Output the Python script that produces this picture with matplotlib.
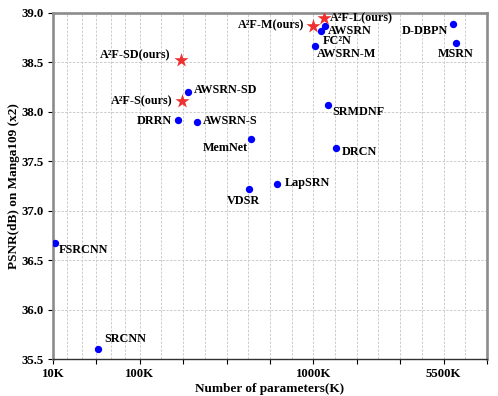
import numpy as np
import matplotlib
matplotlib.use("Agg")
import matplotlib.pyplot as plt

plt.rcParams['font.family'] = ['Liberation Serif', 'DejaVu Serif']
plt.rcParams['font.weight'] = 'bold'

# --- data (params in K, PSNR on Manga109 x2) ---
names = ['SRCNN', 'FSRCNN', 'VDSR', 'DRCN', 'LapSRN', 'DRRN', 'MemNet',
         'SRMDNF', 'D-DBPN', 'MSRN', 'AWSRN-S', 'AWSRN-SD', 'AWSRN-M',
         'AWSRN', 'FC²N']
params = [57, 12, 665, 1774, 813, 297, 677, 1513, 5819, 5930, 397, 348,
          1063, 1397, 1250]
psnr = [35.60, 36.67, 37.22, 37.63, 37.27, 37.92, 37.72, 38.07, 38.89,
        38.69, 37.90, 38.20, 38.66, 38.87, 38.81]

ours_names = ['A²F-SD(ours)', 'A²F-S(ours)', 'A²F-M(ours)', 'A²F-L(ours)']
ours_params = [313, 320, 999, 1363]
ours_psnr = [38.52, 38.11, 38.87, 38.95]

# label placement: (dx, dy) in pixels, horizontal alignment
label_pos = {
    'SRCNN': (6, 10, 'left'), 'FSRCNN': (4, -7, 'left'),
    'VDSR': (-5, -12, 'center'), 'DRCN': (6, -4, 'left'),
    'LapSRN': (7, 1, 'left'), 'DRRN': (-6, -1, 'right'),
    'MemNet': (-3, -9, 'right'), 'SRMDNF': (4, -7, 'left'),
    'D-DBPN': (-5, -7, 'right'), 'MSRN': (0, -11, 'center'),
    'AWSRN-S': (6, 1, 'left'), 'AWSRN-SD': (6, 2, 'left'),
    'AWSRN-M': (2, -8, 'left'), 'AWSRN': (3, -5, 'left'),
    'FC²N': (2, -10, 'left'),
    'A²F-SD(ours)': (-10, 5, 'right'), 'A²F-S(ours)': (-10, 0, 'right'),
    'A²F-M(ours)': (-9, 0, 'right'), 'A²F-L(ours)': (6, -1, 'left'),
}

# piecewise-linear x axis used by the original figure
param_breaks = [10, 100, 1000, 5500, 7000]
pos_breaks = [0, 2, 6, 9, 10]

def fwd(x):
    return np.interp(x, param_breaks, pos_breaks)

def inv(u):
    return np.interp(u, pos_breaks, param_breaks)

fig = plt.figure(figsize=(4.98, 3.96), dpi=100)
ax = fig.add_axes([0.1064, 0.0927, 0.8715, 0.8753])
ax.set_xscale('function', functions=(fwd, inv))
ax.set_xlim(10, 7000)
ax.set_ylim(35.5, 39.0)

ax.scatter(params, psnr, s=28, c='#0000ff', zorder=3, linewidths=0)
ax.scatter(ours_params, ours_psnr, s=115, c='#ee3030', marker='*',
           zorder=3, linewidths=0)

for n, x, y in zip(names + ours_names, params + ours_params, psnr + ours_psnr):
    dx, dy, ha = label_pos[n]
    ax.annotate(n, (x, y), xytext=(dx, dy), textcoords='offset pixels',
                ha=ha, va='center', fontsize=8.7, fontweight='bold')

# ticks and grid
ax.set_xticks(inv(np.arange(0, 11)))
xt_labels = {0: '10K', 2: '100K', 6: '1000K', 9: '5500K'}
ax.set_xticklabels([xt_labels.get(i, '') for i in range(11)])
grid_u = np.concatenate([np.arange(1, 6) / 3.0, np.arange(2.0, 10.0, 0.5)])
ax.set_xticks(inv(grid_u), minor=True)
ax.set_yticks(np.arange(35.5, 39.01, 0.5))
ax.set_yticklabels(['%.1f' % v for v in np.arange(35.5, 39.01, 0.5)])
ax.tick_params(axis='both', which='major', direction='out', length=3.5,
               width=0.8, labelsize=9.2, pad=3)
ax.tick_params(axis='x', which='minor', length=0)
ax.grid(True, which='both', color='#cccccc', linestyle=(0, (2.5, 1.5)),
        linewidth=0.7)
ax.set_axisbelow(True)

for side in ['left', 'top', 'right']:
    ax.spines[side].set_color('#8c8c8c')
    ax.spines[side].set_linewidth(1.9)
ax.spines['bottom'].set_color('#303030')
ax.spines['bottom'].set_linewidth(1.0)

ax.set_xlabel('Number of parameters(K)', fontsize=9.5, fontweight='bold',
              labelpad=2)
ax.set_ylabel('PSNR(dB) on Manga109 (x2)', fontsize=9.5, fontweight='bold',
              labelpad=1)

fig.savefig('out.png', dpi=100)
